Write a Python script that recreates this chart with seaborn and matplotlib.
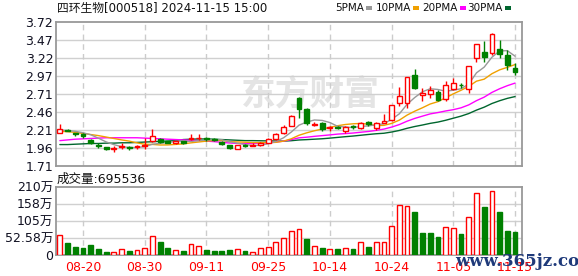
import numpy as np
import matplotlib
matplotlib.use('Agg')
import matplotlib.pyplot as plt
from matplotlib.patches import Rectangle
import seaborn as sns

# trading days shown (mm-dd)
dates = ['08-15', '08-16', '08-19', '08-20', '08-21', '08-22', '08-23', '08-26', '08-27', '08-28',
         '08-29', '08-30', '09-02', '09-03', '09-04', '09-05', '09-06', '09-09', '09-10', '09-11',
         '09-12', '09-13', '09-18', '09-19', '09-20', '09-23', '09-24', '09-25', '09-26', '09-27',
         '09-30', '10-08', '10-09', '10-10', '10-11', '10-14', '10-15', '10-16', '10-17', '10-18',
         '10-21', '10-22', '10-23', '10-24', '10-25', '10-28', '10-29', '10-30', '10-31', '11-01',
         '11-04', '11-05', '11-06', '11-07', '11-08', '11-11', '11-12', '11-13', '11-14', '11-15']
tick_dates = ['08-20', '08-30', '09-11', '09-25', '10-14', '10-24', '11-05', '11-15']

opens = [2.16, 2.21, 2.16, 2.15, 2.07, 2.00, 1.97, 1.95, 1.97, 1.97,
         1.97, 1.99, 2.06, 2.08, 2.05, 2.02, 2.05, 2.08, 2.09, 2.09,
         2.08, 2.04, 2.00, 1.95, 2.00, 1.99, 2.00, 2.03, 2.08, 2.16,
         2.27, 2.65, 2.50, 2.28, 2.30, 2.24, 2.25, 2.19, 2.26, 2.23,
         2.32, 2.23, 2.31, 2.35, 2.58, 2.59, 2.98, 2.69, 2.71, 2.74,
         2.64, 2.78, 2.84, 2.78, 3.22, 3.30, 3.28, 3.34, 3.26, 3.08]
highs = [2.29, 2.22, 2.17, 2.16, 2.08, 2.03, 1.97, 1.98, 2.02, 1.99,
         2.00, 2.09, 2.22, 2.10, 2.06, 2.06, 2.06, 2.15, 2.15, 2.11,
         2.10, 2.05, 2.00, 2.00, 2.01, 2.02, 2.04, 2.10, 2.17, 2.28,
         2.42, 2.67, 2.52, 2.32, 2.32, 2.27, 2.26, 2.27, 2.28, 2.32,
         2.33, 2.32, 2.43, 2.56, 2.81, 2.95, 3.06, 2.79, 2.82, 2.76,
         2.89, 2.94, 2.87, 3.10, 3.41, 3.45, 3.56, 3.46, 3.33, 3.14]
lows = [2.16, 2.19, 2.12, 2.10, 2.01, 1.96, 1.93, 1.90, 1.95, 1.93,
        1.95, 1.95, 2.04, 2.03, 2.02, 2.01, 2.01, 2.07, 2.07, 2.06,
        2.06, 2.00, 1.95, 1.94, 1.97, 1.98, 1.99, 2.02, 2.07, 2.15,
        2.26, 2.37, 2.28, 2.26, 2.20, 2.20, 2.22, 2.17, 2.22, 2.22,
        2.27, 2.21, 2.30, 2.34, 2.55, 2.51, 2.78, 2.61, 2.65, 2.62,
        2.62, 2.76, 2.80, 2.72, 3.16, 3.16, 3.25, 3.21, 3.05, 2.97]
closes = [2.22, 2.20, 2.15, 2.12, 2.02, 1.98, 1.94, 1.96, 1.98, 1.96,
          1.98, 2.00, 2.13, 2.04, 2.03, 2.05, 2.02, 2.10, 2.10, 2.08,
          2.07, 2.01, 1.96, 2.00, 1.99, 2.00, 2.02, 2.08, 2.15, 2.25,
          2.40, 2.50, 2.30, 2.29, 2.22, 2.25, 2.24, 2.25, 2.25, 2.30,
          2.29, 2.31, 2.33, 2.56, 2.68, 2.95, 2.79, 2.73, 2.77, 2.63,
          2.83, 2.86, 2.83, 3.10, 3.41, 3.23, 3.55, 3.27, 3.12, 3.02]

ma5 = [2.21, 2.20, 2.19, 2.17, 2.142, 2.094, 2.042, 2.004, 1.976, 1.964,
       1.964, 1.976, 2.010, 2.022, 2.036, 2.050, 2.054, 2.048, 2.060, 2.070,
       2.074, 2.072, 2.044, 2.024, 2.006, 1.992, 1.994, 2.018, 2.048, 2.100,
       2.180, 2.276, 2.320, 2.348, 2.342, 2.312, 2.260, 2.250, 2.242, 2.258,
       2.266, 2.280, 2.296, 2.358, 2.434, 2.566, 2.662, 2.742, 2.784, 2.774,
       2.750, 2.764, 2.784, 2.850, 3.006, 3.086, 3.224, 3.312, 3.316, 3.238]
ma10 = [2.19, 2.185, 2.175, 2.16, 2.145, 2.13, 2.11, 2.09, 2.07, 2.053,
        2.029, 2.009, 2.007, 1.999, 2.000, 2.007, 2.015, 2.029, 2.041, 2.053,
        2.062, 2.063, 2.046, 2.042, 2.038, 2.033, 2.033, 2.031, 2.036, 2.053,
        2.086, 2.135, 2.169, 2.198, 2.221, 2.246, 2.268, 2.285, 2.295, 2.300,
        2.289, 2.270, 2.273, 2.300, 2.346, 2.416, 2.471, 2.519, 2.571, 2.604,
        2.658, 2.713, 2.763, 2.817, 2.890, 2.918, 2.994, 3.048, 3.083, 3.122]
ma20 = [2.06, 2.07, 2.08, 2.085, 2.09, 2.095, 2.10, 2.10, 2.10, 2.10,
        2.10, 2.095, 2.09, 2.085, 2.08, 2.075, 2.07, 2.065, 2.06, 2.053,
        2.046, 2.036, 2.027, 2.021, 2.019, 2.020, 2.024, 2.030, 2.039, 2.053,
        2.074, 2.099, 2.108, 2.120, 2.130, 2.140, 2.151, 2.158, 2.166, 2.177,
        2.188, 2.203, 2.221, 2.249, 2.284, 2.331, 2.370, 2.402, 2.433, 2.452,
        2.474, 2.492, 2.518, 2.559, 2.618, 2.667, 2.733, 2.784, 2.827, 2.863]
ma30 = [2.005, 2.005, 2.01, 2.015, 2.02, 2.02, 2.025, 2.025, 2.03, 2.03,
        2.035, 2.04, 2.045, 2.05, 2.055, 2.06, 2.075, 2.08, 2.083, 2.083,
        2.08, 2.075, 2.07, 2.065, 2.06, 2.06, 2.058, 2.056, 2.055, 2.053,
        2.059, 2.069, 2.074, 2.080, 2.086, 2.095, 2.105, 2.115, 2.124, 2.135,
        2.146, 2.156, 2.163, 2.180, 2.202, 2.232, 2.257, 2.278, 2.301, 2.319,
        2.344, 2.373, 2.402, 2.438, 2.486, 2.527, 2.578, 2.617, 2.650, 2.675]

# volume in 万, plus its colour flag (1 = red / up, 0 = green / down)
volume = [61.6, 37.0, 25.7, 22.6, 30.8, 18.5, 9.2, 8.2, 17.5, 12.3,
          14.4, 21.6, 57.5, 40.0, 21.6, 14.4, 12.3, 32.9, 27.7, 15.4,
          12.3, 12.3, 15.4, 18.5, 12.3, 8.2, 21.6, 24.6, 39.0, 51.3,
          73.0, 80.0, 49.3, 27.7, 21.6, 18.5, 18.5, 21.6, 18.5, 39.0,
          24.6, 39.0, 39.0, 88.3, 153.0, 150.0, 132.0, 67.7, 67.7, 55.4,
          85.2, 82.0, 64.7, 116.0, 190.0, 148.0, 197.0, 132.0, 74.0, 69.55]
vol_up = [1, 0, 0, 0, 0, 0, 0, 1, 1, 0,
          1, 1, 1, 0, 0, 1, 0, 1, 1, 0,
          0, 0, 0, 1, 0, 1, 1, 1, 1, 1,
          1, 1, 0, 1, 0, 1, 0, 1, 0, 1,
          0, 1, 1, 1, 1, 1, 0, 0, 0, 0,
          1, 1, 0, 1, 1, 0, 1, 0, 0, 0]

price_ticks = ['1.71', '1.96', '2.21', '2.46', '2.71', '2.97', '3.22', '3.47', '3.72']
vol_ticks = ['0', '52.58万', '105万', '158万', '210万']

RED = '#ff0000'
GREEN = '#008000'
MA_COLORS = {'5PMA': '#999999', '10PMA': '#f0a000', '20PMA': '#ff00ff', '30PMA': '#00662e'}

sns.set_style('white')
plt.rcParams['font.family'] = ['DejaVu Sans', 'Noto Sans CJK SC']

fig = plt.figure(figsize=(5.78, 2.76), dpi=100)
ax = fig.add_axes([56 / 578, 1 - 165.7 / 276, 466 / 578, 144 / 276])
ax2 = fig.add_axes([56 / 578, 1 - 255 / 276, 466 / 578, 68.3 / 276])

x = np.arange(len(dates))
o = np.array(opens); c = np.array(closes)
up = c >= o
cols = np.where(up, RED, GREEN)

# watermark
ax.text(0.545, 0.5, '东方财富', transform=ax.transAxes, fontsize=25, fontweight='bold',
        color='#e4e4e4', ha='center', va='center', family='Noto Sans CJK SC', zorder=0)

# MA lines
for name, vals in [('30PMA', ma30), ('20PMA', ma20), ('10PMA', ma10), ('5PMA', ma5)]:
    sns.lineplot(x=x, y=vals, color=MA_COLORS[name], lw=1, ax=ax, zorder=2)

# candles
ax.vlines(x, lows, highs, colors=cols, lw=1, zorder=3)
body = np.maximum(np.abs(c - o), 0.008)
ax.bar(x, body, bottom=np.minimum(o, c), width=0.62,
       facecolor=np.where(up, 'white', GREEN), edgecolor=cols, linewidth=1, zorder=4)

# volume
vcols = np.where(np.array(vol_up) == 1, RED, GREEN)
ax2.bar(x, volume, width=0.62, facecolor=np.where(np.array(vol_up) == 1, 'white', GREEN),
        edgecolor=vcols, linewidth=1, zorder=3)

tick_pos = [dates.index(d) for d in tick_dates]
pt = np.linspace(1.71, 3.72, 9)
vt = np.linspace(0, 210.32, 5)

for a, yt, labs, lim in [(ax, pt, price_ticks, (1.71, 3.72)), (ax2, vt, vol_ticks, (0, 210.32))]:
    a.set_xlim(-0.5, 59.9)
    a.set_ylim(*lim)
    a.set_yticks(yt)
    a.set_yticklabels(labs, fontsize=9, color='#111122')
    for v in yt[1:-1]:
        a.axhline(v, color='#d0d0d0', lw=1, zorder=1)
    for p in tick_pos:
        a.axvline(p, color='#cccccc', lw=1, ls=(0, (4, 3)), zorder=1)
    for s in a.spines.values():
        s.set_color('#999999')
        s.set_linewidth(1.3)
    a.tick_params(axis='y', direction='in', length=3, color='#999999', pad=2)
    a.set_xticks(tick_pos)

ax.set_xticklabels([])
ax.tick_params(axis='x', length=0)
ax2.set_xticklabels(tick_dates, fontsize=9, color=RED)
ax2.tick_params(axis='x', length=0, pad=4)

# title + legend
fig.text(57 / 578, 1 - 8 / 276, '四环生物[000518] 2024-11-15 15:00', fontsize=8.5,
         va='center', ha='left', color='#111111')
leg = [('5PMA', 366), ('10PMA', 413), ('20PMA', 460), ('30PMA', 505)]
for name, sx in leg:
    fig.text((sx - 2) / 578, 1 - 8 / 276, name, fontsize=7.5, va='center', ha='right',
             color='#111111')
    fig.patches.append(Rectangle((sx / 578, 1 - 10 / 276), 6 / 578, 4 / 276,
                                 transform=fig.transFigure, facecolor=MA_COLORS[name],
                                 edgecolor='none'))

fig.text(57 / 578, 1 - 179 / 276, '成交量:695536', fontsize=9, va='center', ha='left',
         color='#111111')
fig.text(455 / 578, 1 - 261 / 276, 'www.365jz.com', fontsize=12, va='center', ha='left',
         color='#1f3a7a', family='DejaVu Serif', fontweight='bold')

fig.savefig('out.png', dpi=100)
